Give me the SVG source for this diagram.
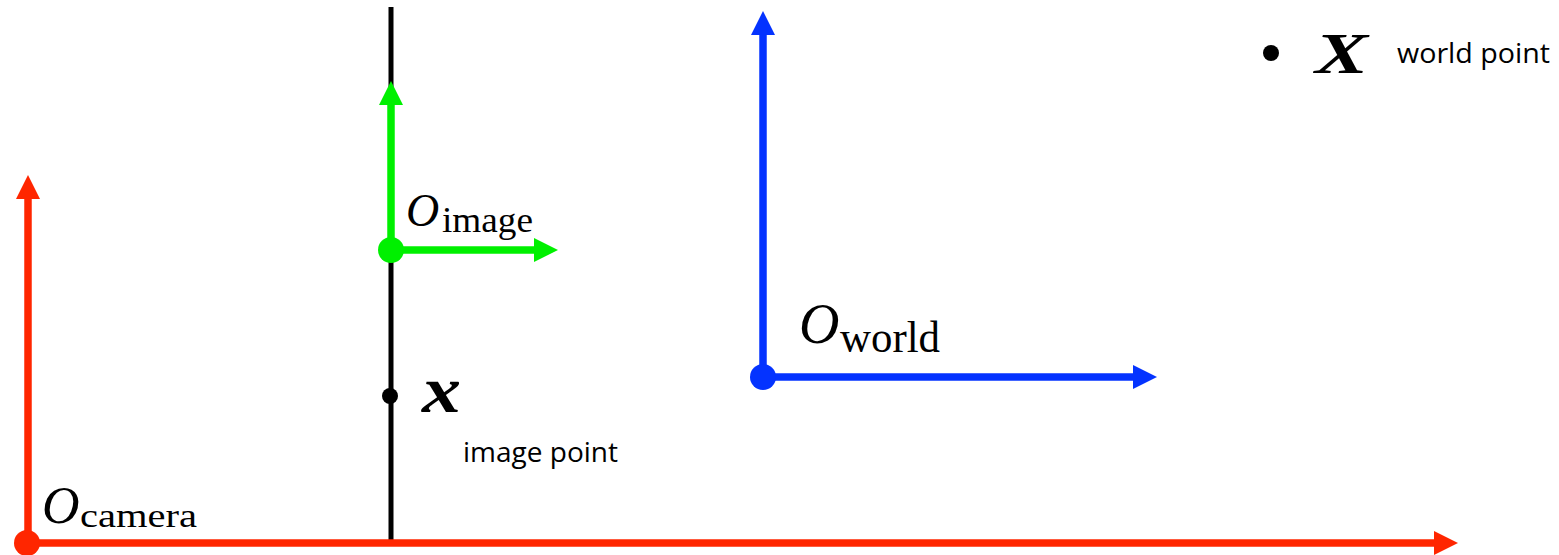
<svg xmlns="http://www.w3.org/2000/svg" width="1559" height="555" viewBox="0 0 1559 555">
<style>
.ax{fill:none;stroke-width:7.5;stroke-linecap:butt}
.red{stroke:#FF2600}.grn{stroke:#00F000}.blu{stroke:#0433FF}
.mi{font-family:"Liberation Serif","DejaVu Serif",serif;font-style:italic;fill:#000}
.mr{font-family:"Liberation Serif","DejaVu Serif",serif;fill:#000}
.mb{font-family:"Liberation Serif","DejaVu Serif",serif;font-style:italic;font-weight:bold;fill:#000}
.lbl{font-family:"Open Sans","Liberation Sans",sans-serif;font-size:28px;fill:#000}
</style>
<defs>
<marker id="ar" viewBox="0 -12 24 24" markerWidth="24" markerHeight="24" refX="1" refY="0" markerUnits="userSpaceOnUse" orient="auto"><path d="M0,-12 L24,0 L0,12 z" fill="#FF2600"/></marker>
<marker id="ag" viewBox="0 -12 24 24" markerWidth="24" markerHeight="24" refX="1" refY="0" markerUnits="userSpaceOnUse" orient="auto"><path d="M0,-12 L24,0 L0,12 z" fill="#00F000"/></marker>
<marker id="ab" viewBox="0 -12 24 24" markerWidth="24" markerHeight="24" refX="1" refY="0" markerUnits="userSpaceOnUse" orient="auto"><path d="M0,-12 L24,0 L0,12 z" fill="#0433FF"/></marker>
</defs>
<rect width="1559" height="555" fill="#fff"/>
<g id="image-plane">
<line x1="391" y1="7" x2="391" y2="541" stroke="#000" stroke-width="5"/>
</g>
<g id="connectors">
<line class="ax red" x1="27" y1="543" x2="1435" y2="543" marker-end="url(#ar)"/>
<line class="ax red" x1="28" y1="543" x2="28" y2="198" marker-end="url(#ar)"/>
<line class="ax grn" x1="391" y1="250" x2="391" y2="104" marker-end="url(#ag)"/>
<line class="ax grn" x1="391" y1="250" x2="535" y2="250" marker-end="url(#ag)"/>
<line class="ax blu" x1="763" y1="377" x2="763" y2="34" marker-end="url(#ab)"/>
<line class="ax blu" x1="763" y1="377" x2="1134" y2="377" marker-end="url(#ab)"/>
</g>
<g id="camera-origin">
<circle cx="27" cy="543" r="13" fill="#FF2600"/>
<text class="mi" x="42" y="523" font-size="52">O</text>
<text class="mr" x="80" y="527" font-size="34" textLength="117" lengthAdjust="spacingAndGlyphs">camera</text>
</g>
<g id="image-origin">
<circle cx="391" cy="250" r="13" fill="#00F000"/>
<text class="mi" x="406" y="226" font-size="46">O</text>
<text class="mr" x="442" y="232" font-size="35" textLength="91" lengthAdjust="spacingAndGlyphs">image</text>
</g>
<g id="world-origin">
<circle cx="763" cy="377" r="13" fill="#0433FF"/>
<text class="mi" x="799" y="343" font-size="56">O</text>
<text class="mr" x="840" y="352" font-size="44" textLength="100" lengthAdjust="spacingAndGlyphs">world</text>
</g>
<g id="image-point">
<circle cx="390" cy="396" r="8" fill="#000"/>
<text class="mb" x="422" y="412" font-size="66" textLength="39" lengthAdjust="spacingAndGlyphs">x</text>
<text class="lbl" x="463" y="462" textLength="155" lengthAdjust="spacingAndGlyphs">image point</text>
</g>
<g id="world-point">
<circle cx="1271" cy="53" r="8" fill="#000"/>
<text class="mb" x="1315" y="73" font-size="57" textLength="53" lengthAdjust="spacingAndGlyphs">X</text>
<text class="lbl" x="1397" y="63" textLength="153" lengthAdjust="spacingAndGlyphs">world point</text>
</g>
</svg>
